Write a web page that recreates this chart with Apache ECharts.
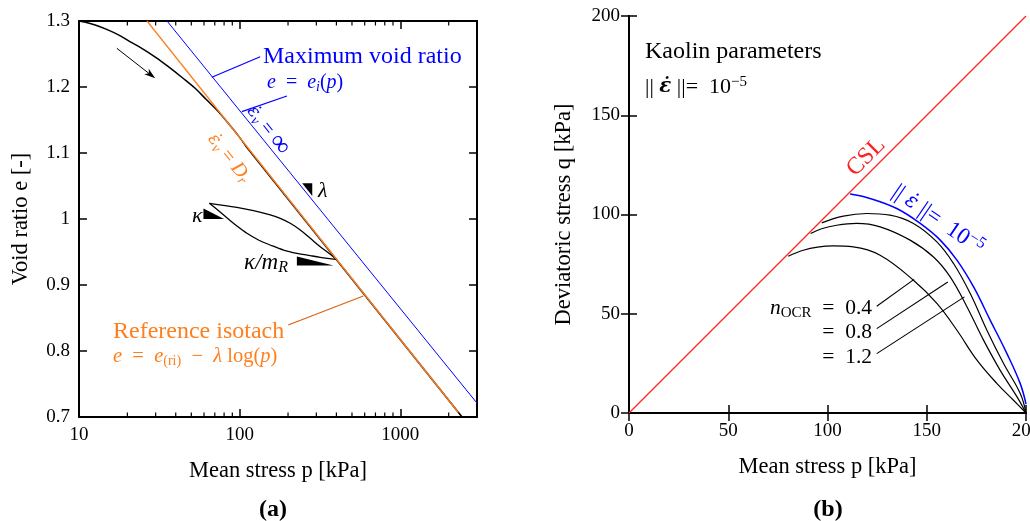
<!DOCTYPE html>
<html>
<head>
<meta charset="utf-8">
<script src="https://cdn.jsdelivr.net/npm/echarts@6/dist/echarts.min.js"></script>
<style>
  html, body { margin: 0; padding: 0; background: #fff; }
  #chart { width: 1030px; height: 521px; }
</style>
</head>
<body>
<div id="chart"></div>
<script>
// ---------- Panel (a): void ratio vs. mean stress (log scale) ----------
const pTickMinor = [20, 30, 40, 50, 60, 70, 80, 90, 200, 300, 400, 500, 600, 700, 800, 900, 2000];

// maximum void ratio line  e = e_i(p)
const pMax = [35.3, 3000];
const eMax = [1.3, 0.721];

// reference isotach  e = e_(ri) - lambda log(p)
const pIso = [26.5, 2300];
const eIso = [1.3, 0.7068];

// compression path: curved start, then along the isotach
const pPathCurve = [10, 11, 12.6, 15, 17.6, 21, 24.6, 30, 36, 44, 52.8, 62, 73.8, 85, 98.3, 110];
const ePathCurve = [1.3, 1.298, 1.294, 1.287, 1.279, 1.268, 1.2586, 1.245, 1.2308, 1.214, 1.198, 1.181, 1.1626, 1.145, 1.126, 1.1095];
const pPathLine = [110, 2450];
const ePathLine = [1.1095, 0.6985];

// unloading / reloading loop
const pLoopUpper = [64.8, 96.1, 121.9, 154.9, 178.8, 206.4, 238.3, 275, 317.4, 349.4, 403.3];
const eLoopUpper = [1.0238, 1.0177, 1.0126, 1.0061, 1.001, 0.9935, 0.9833, 0.9707, 0.958, 0.9505, 0.9385];
const pLoopLower = [64.8, 72.1, 83.2, 96.1, 110.9, 130.9, 154.9, 187.5, 227.2, 275, 317.4, 403.3];
const eLoopLower = [1.0238, 1.0147, 1.002, 0.9894, 0.9783, 0.9682, 0.9606, 0.953, 0.948, 0.9445, 0.9420, 0.9385];

// slope markers (lambda, kappa, kappa/m_R)
const slopeMarkers = [
  [[245, 1.054], [283, 1.054], [283, 1.035]],
  [[59.5, 1.016], [59.5, 1.0], [80, 1.0]],
  [[227, 0.943], [227, 0.9295], [384, 0.9295]]
];

// loading direction arrow
const arrowA = [[17.2, 1.2586], [29.8, 1.2132]];

// leader lines
const leadMaxA = [[67.1, 1.2147], [134.2, 1.2459]];
const leadMaxB = [[103.2, 1.1626], [196.8, 1.1864]];
const leadIso = [[200.5, 0.8394], [588, 0.8833]];

// ---------- Panel (b): deviatoric vs. mean stress ----------
const pCsl = [0, 200];
const qCsl = [0, 200];

const pOcr04 = [80.2, 87.8, 95, 102.9, 113.0, 126.5, 143.3, 155.1, 165.2, 175.3, 185.4, 193.7, 200];
const qOcr04 = [79.0, 82.0, 83.6, 84.2, 83.7, 79.5, 66.9, 55.2, 41.7, 26.6, 14.8, 6.4, 0];
const pOcr08 = [91.5, 97, 104.6, 114.7, 126.5, 141.6, 153.4, 161.8, 170.3, 178.6, 187.0, 195.5, 200];
const qOcr08 = [90.4, 92.8, 94.6, 95.5, 93.8, 87.1, 78.6, 68.6, 53.4, 36.7, 21.5, 8.1, 0];
const pOcr12 = [97.1, 108.0, 119.8, 131.5, 143.3, 155.1, 163.5, 171.9, 180.3, 188.7, 197.1, 200];
const qOcr12 = [95.8, 99.2, 100.5, 99.7, 95.5, 86.2, 75.3, 60.2, 41.7, 24.9, 9.8, 0];
const pRate = [111.4, 121.4, 134.9, 146.7, 156.8, 165.2, 173.6, 182.0, 190.4, 197.1, 200];
const qRate = [110.3, 108.1, 103.0, 95.5, 87.1, 77.0, 63.5, 46.7, 29.9, 14.8, 4.5];

const leadOcr04 = [[124.8, 53.8], [143.6, 67.3]];
const leadOcr08 = [[124.8, 42.5], [160.6, 66.0]];
const leadOcr12 = [[124.8, 29.9], [169.0, 58.5]];

// ---------- styling ----------
const FONT = 'Liberation Serif';
const EPS_FONT = 'DejaVu Serif';
const BLUE = '#0000ff';
const ORANGE = '#ff7f1e';
const RED = '#ff2020';
const SP = '\u2002'; // wider gap around relation signs

const zip = (xs, ys) => xs.map((x, i) => [x, ys[i]]);

function richSet(size, color) {
  const sub = Math.round(size * 0.68);
  const drop = Math.round(size * 0.45);
  return {
    it: { fontFamily: FONT, fontSize: size, fontStyle: 'italic', fill: color, color: color },
    eps: { fontFamily: EPS_FONT, fontSize: size * 0.9, fontStyle: 'italic', fill: color, color: color },
    beps: { fontFamily: EPS_FONT, fontSize: size * 0.9, fontStyle: 'italic', fontWeight: 'bold', fill: color, color: color },
    big: { fontFamily: FONT, fontSize: size * 1.35, fill: color, color: color },
    sub: { fontFamily: FONT, fontSize: sub, fill: color, color: color, padding: [drop, 0, 0, 0] },
    isub: { fontFamily: FONT, fontSize: sub, fontStyle: 'italic', fill: color, color: color, padding: [drop, 0, 0, 0] },
    sup: { fontFamily: FONT, fontSize: sub, fill: color, color: color, padding: [0, 0, drop, 0] }
  };
}

function label(x, y, text, opts) {
  opts = opts || {};
  const size = opts.size || 20;
  const color = opts.color || '#000';
  return {
    type: 'text',
    x: x, y: y,
    rotation: opts.rotation || 0,
    z: 100,
    style: {
      text: text,
      fill: color,
      fontFamily: FONT,
      fontSize: size,
      fontWeight: opts.bold ? 'bold' : 'normal',
      align: opts.align || 'left',
      verticalAlign: 'middle',
      rich: richSet(size, color)
    }
  };
}

function lineSeries(data, color, width, xi, extra) {
  return Object.assign({
    type: 'line',
    xAxisIndex: xi, yAxisIndex: xi,
    data: data,
    showSymbol: false,
    symbol: 'none',
    lineStyle: { color: color, width: width },
    silent: true,
    z: 3
  }, extra || {});
}

const axisLabelStyle = { fontFamily: FONT, fontSize: 19, color: '#000' };
const frameLine = { show: true, lineStyle: { color: '#000', width: 2 } };

function xAxisSpec(grid, type, extra, top) {
  return Object.assign({
    gridIndex: grid,
    type: type,
    position: top ? 'top' : 'bottom',
    axisLine: frameLine,
    axisTick: { show: true, inside: true, length: 8, lineStyle: { color: '#000', width: 1.5 } },
    axisLabel: top ? { show: false } : Object.assign({ margin: 9 }, axisLabelStyle),
    splitLine: { show: false },
    name: top ? '' : 'Mean stress p [kPa]',
    nameLocation: 'middle',
    nameGap: 43,
    nameTextStyle: { fontFamily: FONT, fontSize: 22.5, color: '#000' }
  }, extra);
}

function yAxisSpec(grid, extra, right, name, gap) {
  return Object.assign({
    gridIndex: grid,
    type: 'value',
    position: right ? 'right' : 'left',
    axisLine: frameLine,
    axisTick: { show: true, inside: true, length: 8, lineStyle: { color: '#000', width: 1.5 } },
    axisLabel: right ? { show: false } : Object.assign({ margin: 9 }, axisLabelStyle),
    splitLine: { show: false },
    name: right ? '' : name,
    nameLocation: 'middle',
    nameGap: gap,
    nameTextStyle: { fontFamily: FONT, fontSize: 22.5, color: '#000' }
  }, extra);
}

const option = {
  animation: false,
  backgroundColor: '#fff',
  grid: [
    { left: 79, top: 21, width: 398, height: 396, outerBoundsMode: 'none', containLabel: false },
    { left: 629, top: 16, width: 397, height: 397, outerBoundsMode: 'none', containLabel: false }
  ],
  xAxis: [
    xAxisSpec(0, 'log', { logBase: 10, min: 10, max: 3000,
      axisLabel: Object.assign({ margin: 9, showMaxLabel: false, formatter: v => String(Math.round(v)) }, axisLabelStyle) }, false),
    xAxisSpec(1, 'value', { min: 0, max: 200, interval: 50 }, false),
    xAxisSpec(0, 'log', { logBase: 10, min: 10, max: 3000 }, true),
    xAxisSpec(1, 'value', { min: 0, max: 200, interval: 50 }, true)
  ],
  yAxis: [
    yAxisSpec(0, { min: 0.7, max: 1.3, interval: 0.1 }, false, 'Void ratio e [-]', 46),
    yAxisSpec(1, { min: 0, max: 200, interval: 50 }, false, 'Deviatoric stress q [kPa]', 53),
    yAxisSpec(0, { min: 0.7, max: 1.3, interval: 0.1 }, true),
    yAxisSpec(1, { min: 0, max: 200, interval: 50 }, true)
  ],
  series: [
    // ---- panel (a)
    lineSeries(zip(pMax, eMax), BLUE, 1, 0),
    lineSeries(zip(pPathCurve, ePathCurve), '#000', 1.5, 0, { smooth: 0.35 }),
    lineSeries(zip(pPathLine, ePathLine), '#000', 1.6, 0),
    lineSeries(zip(pIso, eIso), ORANGE, 1.3, 0, { z: 4 }),
    lineSeries(zip(pLoopUpper, eLoopUpper), '#000', 1.3, 0, { smooth: 0.35 }),
    lineSeries(zip(pLoopLower, eLoopLower), '#000', 1.3, 0, { smooth: 0.35 }),
    lineSeries(leadMaxA, BLUE, 1.2, 0),
    lineSeries(leadMaxB, BLUE, 1.2, 0),
    lineSeries(leadIso, '#d9620f', 1.2, 0),
    {
      // loading direction arrow
      type: 'custom', xAxisIndex: 0, yAxisIndex: 0, silent: true, z: 5,
      data: [[arrowA[0][0], arrowA[0][1]]],
      renderItem: function (params, api) {
        const a = api.coord(arrowA[0]);
        const b = api.coord(arrowA[1]);
        const dx = b[0] - a[0], dy = b[1] - a[1];
        const len = Math.sqrt(dx * dx + dy * dy);
        const ux = dx / len, uy = dy / len, nx = -uy, ny = ux;
        const L = 11, W = 3.6, N = 8;
        return { type: 'group', children: [
          { type: 'line', shape: { x1: a[0], y1: a[1], x2: b[0] - ux * N, y2: b[1] - uy * N }, style: { stroke: '#000', lineWidth: 1 } },
          { type: 'polygon', shape: { points: [
            [b[0], b[1]],
            [b[0] - ux * L + nx * W, b[1] - uy * L + ny * W],
            [b[0] - ux * N, b[1] - uy * N],
            [b[0] - ux * L - nx * W, b[1] - uy * L - ny * W]
          ] }, style: { fill: '#000' } }
        ] };
      }
    },
    {
      type: 'custom', xAxisIndex: 0, yAxisIndex: 0, silent: true, z: 5,
      data: slopeMarkers.map((t, i) => [t[0][0], t[0][1], i]),
      renderItem: function (params, api) {
        const tri = slopeMarkers[api.value(2)];
        return { type: 'polygon', shape: { points: tri.map(pt => api.coord(pt)) }, style: { fill: '#000' } };
      }
    },
    {
      // minor decade ticks on the bottom and top frame
      type: 'custom', xAxisIndex: 0, yAxisIndex: 0, silent: true, z: 6,
      data: pTickMinor.map(v => [v, 0.7]),
      renderItem: function (params, api) {
        const b = api.coord([api.value(0), 0.7]);
        const t = api.coord([api.value(0), 1.3]);
        const st = { stroke: '#000', lineWidth: 1.2 };
        return { type: 'group', children: [
          { type: 'line', shape: { x1: b[0], y1: b[1], x2: b[0], y2: b[1] - 4.5 }, style: st },
          { type: 'line', shape: { x1: t[0], y1: t[1], x2: t[0], y2: t[1] + 4.5 }, style: st }
        ] };
      }
    },
    // ---- panel (b)
    lineSeries(zip(pCsl, qCsl), RED, 1.2, 1),
    lineSeries(zip(pOcr04, qOcr04), '#000', 1.2, 1, { smooth: 0.4 }),
    lineSeries(zip(pOcr08, qOcr08), '#000', 1.2, 1, { smooth: 0.4 }),
    lineSeries(zip(pOcr12, qOcr12), '#000', 1.2, 1, { smooth: 0.4 }),
    lineSeries(zip(pRate, qRate), BLUE, 1.5, 1, { smooth: 0.4 }),
    lineSeries(leadOcr04, '#000', 1.1, 1),
    lineSeries(leadOcr08, '#000', 1.1, 1),
    lineSeries(leadOcr12, '#000', 1.1, 1)
  ],
  graphic: [
    // panel (a) annotations
    label(263, 57, 'Maximum void ratio', { size: 24, color: BLUE }),
    label(267, 83, '{it|e}' + SP + '=' + SP + '{it|e}{isub|i}({it|p})', { size: 20, color: BLUE }),
    label(268, 130, '{eps|ε̇}{isub|v} = {big|∞}', { size: 20, color: BLUE, rotation: -0.895, align: 'center' }),
    label(229, 158, '{eps|ε̇}{isub|v} = {it|D}{isub|r}', { size: 20, color: ORANGE, rotation: -0.895, align: 'center' }),
    label(318, 191, '{it|λ}', { size: 22 }),
    label(192, 216, '{it|κ}', { size: 22 }),
    label(266, 263, '{it|κ/m}{isub|R}', { size: 23, align: 'center' }),
    label(113, 332, 'Reference isotach', { size: 24, color: ORANGE }),
    label(113, 357, '{it|e}' + SP + '=' + SP + '{it|e}{sub|(ri)}' + SP + '−' + SP + '{it|λ} log({it|p})', { size: 20.5, color: ORANGE }),
    label(273, 510, '(a)', { size: 24, bold: true, align: 'center' }),
    // panel (b) annotations
    label(645, 52, 'Kaolin parameters', { size: 24 }),
    label(645, 87, '|| {beps|ε̇} ||=' + SP + '10{sup|−5}', { size: 22 }),
    label(866, 157, 'CSL', { size: 24, color: RED, rotation: Math.PI / 4, align: 'center' }),
    label(938, 220, '|| {eps|ε̇} ||=' + SP + '10{sup|−5}', { size: 23, color: BLUE, rotation: -0.6, align: 'center' }),
    label(872, 308, '{it|n}{sub|OCR}' + SP + '=' + SP + '0.4', { size: 21.5, align: 'right' }),
    label(872, 332, '=' + SP + '0.8', { size: 21.5, align: 'right' }),
    label(872, 357, '=' + SP + '1.2', { size: 21.5, align: 'right' }),
    label(828, 510, '(b)', { size: 24, bold: true, align: 'center' })
  ]
};

const chart = echarts.init(document.getElementById('chart'), null, { renderer: 'canvas' });
chart.setOption(option);
</script>
</body>
</html>
